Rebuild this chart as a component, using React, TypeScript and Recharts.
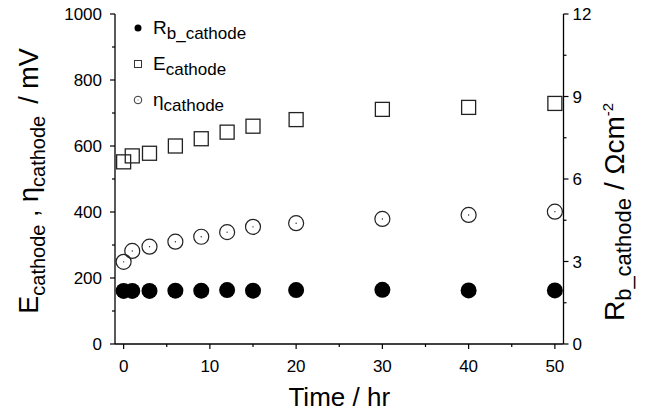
import React from "react";
import {
  Legend,
  Scatter,
  ScatterChart,
  XAxis,
  YAxis,
} from "recharts";

const times = [0, 1, 3, 6, 9, 12, 15, 20, 30, 40, 50];
const rbCathode = [1.93, 1.93, 1.93, 1.94, 1.94, 1.96, 1.94, 1.96, 1.97, 1.95, 1.95];
const eCathode = [552, 570, 578, 600, 622, 642, 660, 680, 711, 717, 729];
const etaCathode = [249, 282, 295, 310, 325, 339, 355, 366, 379, 391, 401];

const xTicks = [0, 5, 10, 15, 20, 25, 30, 35, 40, 45, 50];
const leftTicks = [0, 100, 200, 300, 400, 500, 600, 700, 800, 900, 1000];
const rightTicks = [0, 1.5, 3, 4.5, 6, 7.5, 9, 10.5, 12];

const rbData = times.map((t, i) => ({ time: t, value: rbCathode[i] }));
const eData = times.map((t, i) => ({ time: t, value: eCathode[i] }));
const etaData = times.map((t, i) => ({ time: t, value: etaCathode[i] }));

const FONT = "'Liberation Sans', Arial, Helvetica, sans-serif";
const INK = "#000";

function BottomTick({ x, y, payload }: any) {
  const major = payload.value % 10 === 0;
  return (
    <g>
      <line x1={x} y1={y} x2={x} y2={y + (major ? 5 : 3)} stroke={INK} strokeWidth={1.2} />
      {major && (
        <text x={x} y={y + 28} textAnchor="middle" fontSize={17} fontFamily={FONT} fill={INK}>
          {payload.value}
        </text>
      )}
    </g>
  );
}

function LeftTick({ x, y, payload }: any) {
  const major = payload.value % 200 === 0;
  return (
    <g>
      <line x1={x - (major ? 5 : 3)} y1={y} x2={x} y2={y} stroke={INK} strokeWidth={1.2} />
      {major && (
        <text x={x - 13} y={y + 6} textAnchor="end" fontSize={17} fontFamily={FONT} fill={INK}>
          {payload.value}
        </text>
      )}
    </g>
  );
}

function RightTick({ x, y, payload }: any) {
  const major = payload.value % 3 === 0;
  return (
    <g>
      <line x1={x} y1={y} x2={x + (major ? 5 : 3)} y2={y} stroke={INK} strokeWidth={1.2} />
      {major && (
        <text x={x + 9} y={y + 6} textAnchor="start" fontSize={17} fontFamily={FONT} fill={INK}>
          {payload.value}
        </text>
      )}
    </g>
  );
}

const FilledDot = ({ cx, cy }: any) => <circle cx={cx} cy={cy} r={8} fill={INK} />;
const OpenSquare = ({ cx, cy }: any) => (
  <rect x={cx - 7} y={cy - 7} width={14} height={14} fill="none" stroke="#222" strokeWidth={1.3} />
);
const DotCircle = ({ cx, cy }: any) => (
  <g>
    <circle cx={cx} cy={cy} r={7.5} fill="none" stroke="#222" strokeWidth={1.2} />
    <circle cx={cx} cy={cy} r={0.7} fill="#222" />
  </g>
);

function LeftLabel({ viewBox }: any) {
  const cx = 38;
  const cy = viewBox.y + viewBox.height / 2 + 2;
  return (
    <text
      x={cx}
      y={cy}
      transform={`rotate(-90, ${cx}, ${cy})`}
      textAnchor="middle"
      fontSize={27}
      fontFamily={FONT}
      fill={INK}
    >
      <tspan>E</tspan>
      <tspan fontSize={20} dy={7}>cathode</tspan>
      <tspan dy={-7}> , η</tspan>
      <tspan fontSize={20} dy={7}>cathode</tspan>
      <tspan dy={-7} dx={12}>/ mV</tspan>
    </text>
  );
}

function RightLabel({ viewBox }: any) {
  const cx = 624;
  const cy = viewBox.y + viewBox.height / 2 + 33;
  return (
    <text
      x={cx}
      y={cy}
      transform={`rotate(-90, ${cx}, ${cy})`}
      textAnchor="middle"
      fontSize={28}
      fontFamily={FONT}
      fill={INK}
    >
      <tspan>R</tspan>
      <tspan fontSize={22} dy={7}>b_cathode</tspan>
      <tspan dy={-7} dx={8}>/ Ωcm</tspan>
      <tspan fontSize={15} dy={-11}>-2</tspan>
    </text>
  );
}

function BottomLabel({ viewBox }: any) {
  const cx = viewBox.x + viewBox.width / 2;
  return (
    <text x={cx} y={406} textAnchor="middle" fontSize={26} fontFamily={FONT} fill={INK}>
      Time / hr
    </text>
  );
}

const legendRows = [
  { main: "R", sub: "b_cathode", symbol: "filled" },
  { main: "E", sub: "cathode", symbol: "square" },
  { main: "η", sub: "cathode", symbol: "circle" },
];

function LegendBox() {
  return (
    <svg width={140} height={120} style={{ overflow: "visible", display: "block" }}>
      {legendRows.map((row, i) => {
        const cy = 14 + i * 36;
        return (
          <g key={row.sub + i}>
            {row.symbol === "filled" && <circle cx={8} cy={cy} r={3.5} fill={INK} />}
            {row.symbol === "square" && (
              <rect x={4.5} y={cy - 3.5} width={7} height={7} fill="none" stroke="#333" strokeWidth={1} />
            )}
            {row.symbol === "circle" && (
              <g>
                <circle cx={8} cy={cy} r={3.8} fill="none" stroke="#333" strokeWidth={1} />
                <circle cx={8} cy={cy} r={0.5} fill="#333" />
              </g>
            )}
            <text x={23} y={cy + 6} fontSize={19} fontFamily={FONT} fill={INK}>
              <tspan>{row.main}</tspan>
              <tspan fontSize={17} dy={5}>{row.sub}</tspan>
            </text>
          </g>
        );
      })}
    </svg>
  );
}

export default function App() {
  return (
    <div style={{ position: "absolute", left: 0, top: 0, background: "#fff" }}>
      <ScatterChart width={653} height={414} margin={{ top: 14, right: 0, bottom: 0, left: 0 }}>
        <XAxis
          xAxisId="bottom"
          dataKey="time"
          type="number"
          domain={[-1, 51]}
          allowDataOverflow
          ticks={xTicks}
          interval={0}
          height={70}
          tickSize={0}
          tickMargin={0}
          tickLine={false}
          axisLine={{ stroke: INK, strokeWidth: 1.3 }}
          tick={<BottomTick />}
          label={<BottomLabel />}
        />
        <XAxis
          xAxisId="top"
          orientation="top"
          dataKey="time"
          type="number"
          domain={[-1, 51]}
          allowDataOverflow
          height={0}
          tick={false}
          tickLine={false}
          axisLine={{ stroke: INK, strokeWidth: 1.3 }}
        />
        <YAxis
          yAxisId="left"
          dataKey="value"
          type="number"
          domain={[0, 1000]}
          ticks={leftTicks}
          interval={0}
          width={115}
          tickSize={0}
          tickMargin={0}
          tickLine={false}
          axisLine={{ stroke: INK, strokeWidth: 1.3 }}
          tick={<LeftTick />}
          label={<LeftLabel />}
        />
        <YAxis
          yAxisId="right"
          orientation="right"
          dataKey="value"
          type="number"
          domain={[0, 12]}
          ticks={rightTicks}
          interval={0}
          width={89.5}
          tickSize={0}
          tickMargin={0}
          tickLine={false}
          axisLine={{ stroke: INK, strokeWidth: 1.3 }}
          tick={<RightTick />}
          label={<RightLabel />}
        />
        <Legend
          layout="vertical"
          verticalAlign="middle"
          align="center"
          content={() => <LegendBox />}
          wrapperStyle={{ position: "absolute", left: 130, top: 14, width: 140, height: 120 }}
        />
        <Scatter
          name="Rb_cathode"
          data={rbData}
          xAxisId="bottom"
          yAxisId="right"
          shape={<FilledDot />}
          isAnimationActive={false}
        />
        <Scatter
          name="Ecathode"
          data={eData}
          xAxisId="bottom"
          yAxisId="left"
          shape={<OpenSquare />}
          isAnimationActive={false}
        />
        <Scatter
          name="ηcathode"
          data={etaData}
          xAxisId="bottom"
          yAxisId="left"
          shape={<DotCircle />}
          isAnimationActive={false}
        />
      </ScatterChart>
    </div>
  );
}
